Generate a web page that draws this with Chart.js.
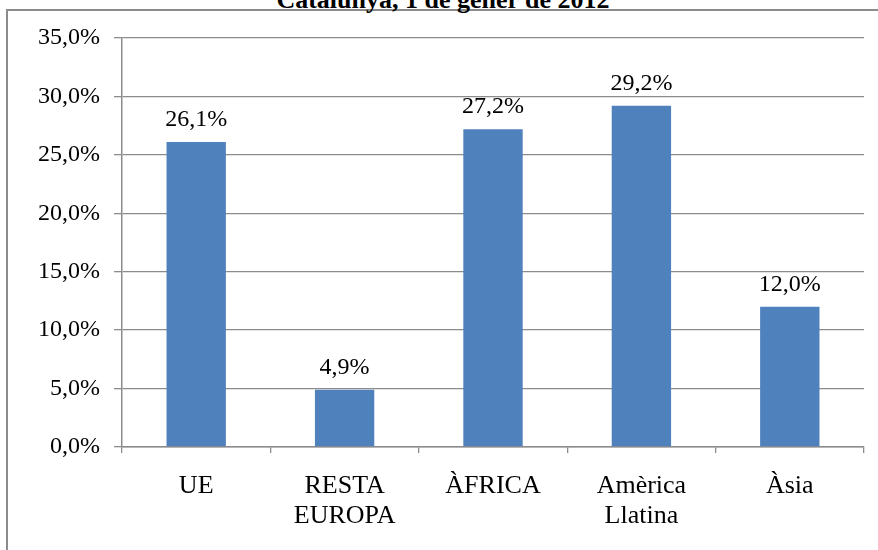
<!DOCTYPE html>
<html lang="ca">
<head>
<meta charset="UTF-8">
<title>Catalunya, 1 de gener de 2012</title>
<script src="https://cdn.jsdelivr.net/npm/chart.js"></script>
<style>
    html, body {
        margin: 0;
        padding: 0;
        background: #ffffff;
        overflow: hidden;
    }
    .frame {
        position: absolute;
        left: 6px;
        top: 9px;
        width: 2000px;
        height: 2000px;
        border-left: 2px solid #8c8c8c;
        border-top: 2px solid #8c8c8c;
    }
    .title {
        position: absolute;
        top: -13px;
        left: 0;
        width: 886px;
        text-align: center;
        font-family: "Liberation Serif", "Times New Roman", serif;
        font-weight: bold;
        font-size: 26px;
        line-height: 26px;
        color: #000;
    }
    .wrap {
        position: absolute;
        left: 0;
        top: 0;
        width: 878px;
        height: 550px;
    }
</style>
</head>
<body>
<div class="frame"></div>
<div class="title">Catalunya, 1 de gener de 2012</div>
<div class="wrap"><canvas id="chart"></canvas></div>

<script>
    const categories = ['UE', ['RESTA', 'EUROPA'], 'ÀFRICA', ['Amèrica', 'Llatina'], 'Àsia'];
    const values = [26.1, 4.9, 27.2, 29.2, 12.0];
    const yTicks = [0, 5, 10, 15, 20, 25, 30, 35];

    const serif = '"Liberation Serif", "Times New Roman", serif';
    const gridGrey = '#8c8c8c';

    function pct(v) {
        return v.toFixed(1).replace('.', ',') + '%';
    }

    // labels above each bar
    const barLabels = {
        id: 'barLabels',
        afterDatasetsDraw(chart) {
            const ctx = chart.ctx;
            const meta = chart.getDatasetMeta(0);
            ctx.save();
            ctx.font = '24px ' + serif;
            ctx.fillStyle = '#000';
            ctx.textAlign = 'center';
            ctx.textBaseline = 'alphabetic';
            meta.data.forEach((bar, i) => {
                ctx.fillText(pct(values[i]), bar.x, bar.y - 16);
            });
            ctx.restore();
        }
    };

    const ctx = document.getElementById('chart').getContext('2d');
    const chart = new Chart(ctx, {
        type: 'bar',
        data: {
            labels: categories,
            datasets: [{
                data: values,
                backgroundColor: '#4f81bd',
                borderWidth: 0,
                barPercentage: 0.4,
                categoryPercentage: 1.0
            }]
        },
        options: {
            responsive: true,
            maintainAspectRatio: false,
            animation: false,
            layout: {
                padding: { top: 38, right: 14, bottom: 0, left: 0 }
            },
            plugins: {
                legend: { display: false },
                tooltip: { enabled: false }
            },
            scales: {
                y: {
                    min: 0,
                    max: 35,
                    afterFit(scale) { scale.width = 122; },
                    afterBuildTicks(scale) {
                        scale.ticks = yTicks.map(v => ({ value: v }));
                    },
                    ticks: {
                        callback: v => pct(v),
                        color: '#000',
                        padding: 14,
                        font: { family: serif, size: 24 }
                    },
                    grid: {
                        color: gridGrey,
                        lineWidth: 1.3,
                        tickLength: 8
                    },
                    border: { color: gridGrey, width: 1.5 }
                },
                x: {
                    afterFit(scale) { scale.height = 103; },
                    ticks: {
                        color: '#000',
                        padding: 18,
                        font: { family: serif, size: 26, lineHeight: 1.154 }
                    },
                    grid: {
                        offset: true,
                        drawOnChartArea: false,
                        color: gridGrey,
                        lineWidth: 1.3,
                        tickLength: 6
                    },
                    border: { color: gridGrey, width: 1.5 }
                }
            }
        },
        plugins: [barLabels]
    });
</script>
</body>
</html>
